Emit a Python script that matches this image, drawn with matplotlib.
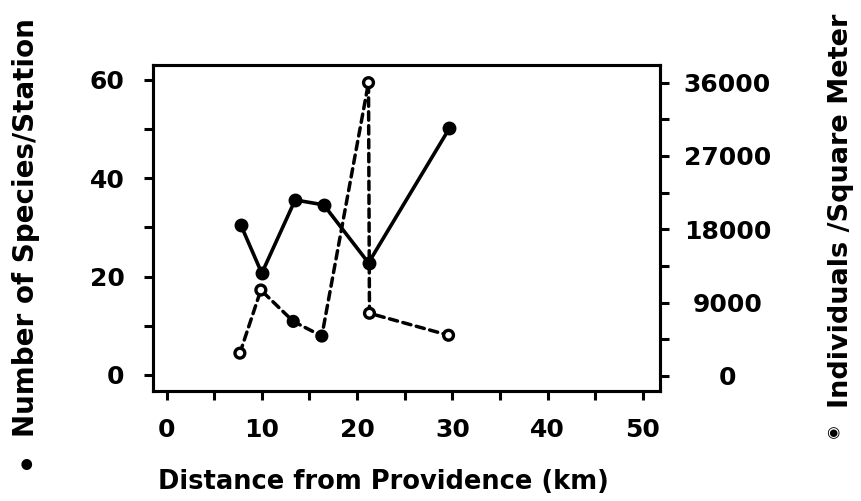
import matplotlib.pyplot as plt
from matplotlib.ticker import MultipleLocator

plt.rcParams['font.family'] = 'DejaVu Sans'
plt.rcParams['font.weight'] = 'bold'

# Number of species per station (left axis)
dist_species = [7.8, 10.0, 13.5, 16.5, 21.2, 29.7]
species = [30.5, 20.7, 35.6, 34.6, 22.8, 50.2]

# Individuals per square meter (right axis)
dist_density = [7.7, 9.9, 13.3, 16.3, 21.2, 21.3, 29.6]
density = [2800, 10550, 6700, 4900, 36000, 7700, 5000]

fig = plt.figure(figsize=(8.62, 5.01), dpi=100)
ax = fig.add_axes([0.1775, 0.2196, 0.5882, 0.6507])
ax2 = ax.twinx()

ax.plot(dist_species, species, color='black', lw=2.6, marker='o',
        markersize=9, solid_joinstyle='round', zorder=3)

ax2.plot(dist_density, density, color='black', lw=2.5,
         linestyle=(0, (2.4, 1.6)), dash_capstyle='round', zorder=3)
faces = ['white', 'white', 'black', 'black', 'white', 'white', 'white']
ax2.scatter(dist_density, density, s=50, facecolors=faces,
            edgecolors='black', linewidths=2.4, zorder=4)

ax.set_xlim(-1.42, 51.8)
ax.set_ylim(-3.25, 63.05)
ax2.set_ylim(-1841, 38170)

ax.xaxis.set_major_locator(MultipleLocator(10))
ax.xaxis.set_minor_locator(MultipleLocator(5))
ax.yaxis.set_major_locator(MultipleLocator(20))
ax.yaxis.set_minor_locator(MultipleLocator(10))
ax2.yaxis.set_major_locator(MultipleLocator(9000))
ax2.yaxis.set_minor_locator(MultipleLocator(4500))

for a in (ax, ax2):
    for s in a.spines.values():
        s.set_linewidth(2.2)
    a.tick_params(which='both', direction='out', length=6.5, width=2.2,
                  labelsize=18)

ax.tick_params(axis='x', which='both', pad=13)
ax.tick_params(axis='y', which='both', pad=14)
ax2.tick_params(axis='y', which='both', pad=42)
for lab in ax2.get_yticklabels():
    lab.set_horizontalalignment('center')

# Axis titles with their series symbols
fig.text(0.445, 0.038, 'Distance from Providence (km)', ha='center',
         va='center', fontsize=18.5)
fig.text(0.030, 0.545, 'Number of Species/Station', rotation=90,
         ha='center', va='center', fontsize=20)
fig.text(0.031, 0.066, '\u2022', ha='center', va='center', fontsize=22)
fig.text(0.976, 0.579, 'Individuals /Square Meter', rotation=90,
         ha='center', va='center', fontsize=19.5)
fig.text(0.966, 0.136, '\u25c9', ha='center', va='center', fontsize=11)

fig.savefig('out.png', dpi=100)
